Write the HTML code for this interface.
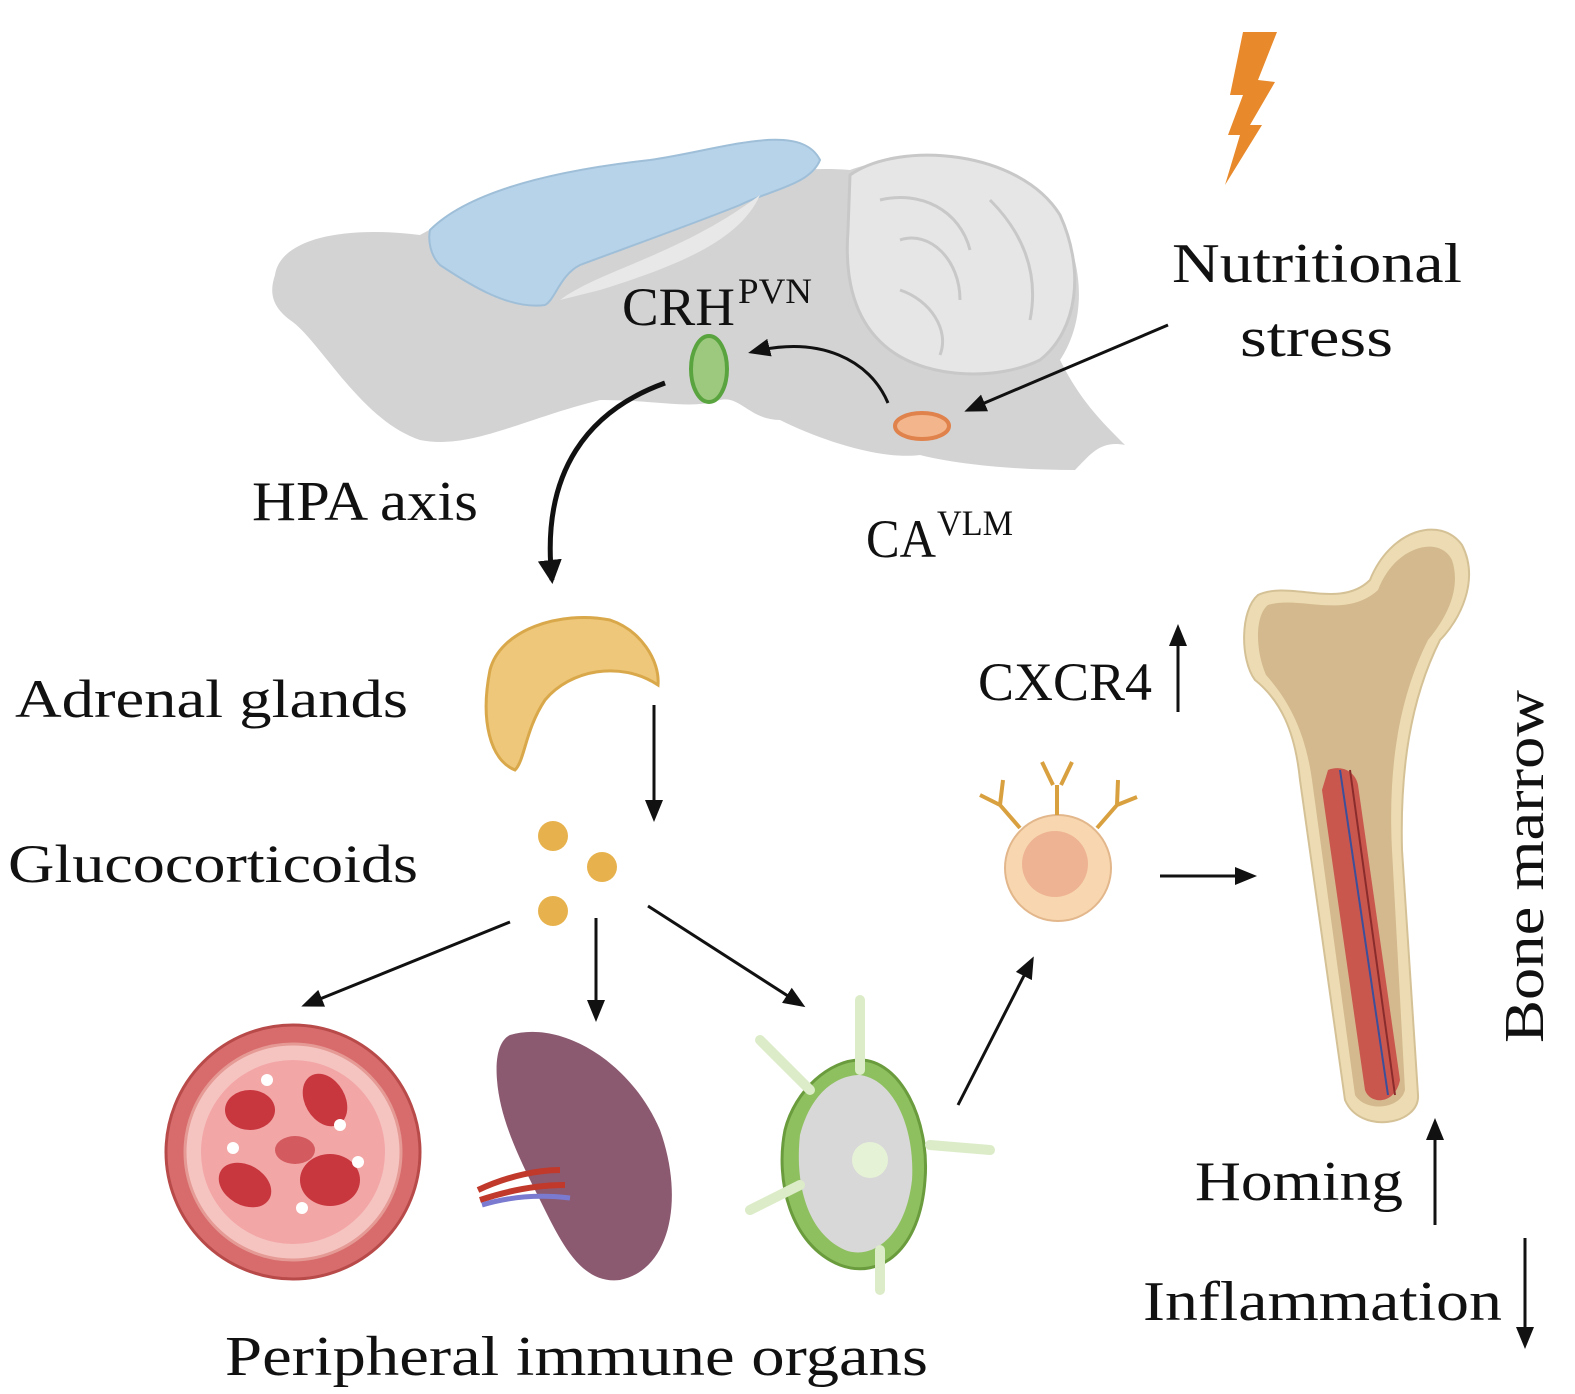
<!DOCTYPE html>
<html><head><meta charset="utf-8"><style>
html,body{margin:0;padding:0;background:#fff;}
svg{display:block;}
text{font-family:"Liberation Serif",serif;fill:#111;}
</style></head><body>
<svg width="1575" height="1394" viewBox="0 0 1575 1394" xmlns="http://www.w3.org/2000/svg">
<defs>
<marker id="ah2" markerWidth="24" markerHeight="24" refX="20" refY="12" orient="auto" markerUnits="userSpaceOnUse">
<path d="M0,0 L24,12 L0,24 Z" fill="#111"/></marker>
<marker id="ah3" markerWidth="22" markerHeight="22" refX="18" refY="11" orient="auto" markerUnits="userSpaceOnUse">
<path d="M0,2 L22,11 L0,20 Z" fill="#111"/></marker>
</defs>

<path d="M1243,32 L1277,32 L1258,80 L1275,82 L1250,125 L1262,125 L1225,185 L1240,135 L1228,135 L1243,95 L1230,95 Z" fill="#e8892b"/>

<path d="M275,275 C280,240 340,225 420,235 C480,200 560,185 640,190 C720,180 790,165 850,170 C900,150 1020,160 1060,220 C1090,280 1080,330 1060,360 C1080,400 1100,420 1125,445 C1100,440 1090,455 1075,470 C1020,470 960,465 920,455 C880,460 820,440 780,420 C750,420 740,395 720,400 C690,410 660,400 600,400 C520,420 470,450 420,440 C360,420 320,340 290,320 C270,305 270,290 275,275 Z" fill="#d3d3d4"/>
<path d="M850,175 C900,140 1020,150 1060,215 C1085,270 1078,330 1040,360 C1000,380 930,380 890,350 C850,320 845,270 848,230 Z" fill="#e6e6e6" stroke="#c8c8c8" stroke-width="3"/>
<path d="M880,200 C920,190 960,210 970,250 M900,240 C930,230 960,260 960,300 M990,200 C1020,230 1040,270 1030,320 M900,290 C930,300 950,330 940,355" fill="none" stroke="#c8c8c8" stroke-width="3"/>
<path d="M430,230 C470,190 560,170 650,160 C720,150 800,120 820,160 C810,185 770,190 740,205 C690,225 620,250 580,265 C560,275 555,300 545,305 C510,310 470,285 440,265 C430,255 428,240 430,230 Z" fill="#b7d3ea" stroke="#9fbfd8" stroke-width="2"/>
<path d="M560,300 C600,270 680,255 760,195 C740,240 680,265 600,290 Z" fill="#e8e8e8"/>

<ellipse cx="709" cy="369" rx="18" ry="33" fill="#9cc97d" stroke="#5aa440" stroke-width="4"/>
<ellipse cx="922" cy="426" rx="27" ry="13" fill="#f3b68c" stroke="#e0824b" stroke-width="4"/>

<path d="M888,403 C870,360 820,335 752,352" fill="none" stroke="#111" stroke-width="3" marker-end="url(#ah3)"/>
<line x1="1168" y1="325" x2="968" y2="410" stroke="#111" stroke-width="3" marker-end="url(#ah3)"/>
<path d="M665,383 C590,410 540,470 552,580" fill="none" stroke="#111" stroke-width="5" marker-end="url(#ah2)"/>

<text x="622" y="325" font-size="54" textLength="113" lengthAdjust="spacingAndGlyphs">CRH</text><text x="738" y="303" font-size="36" textLength="74" lengthAdjust="spacingAndGlyphs">PVN</text>
<text x="1172" y="282" font-size="56" textLength="290" lengthAdjust="spacingAndGlyphs">Nutritional</text>
<text x="1240" y="356" font-size="56" textLength="153" lengthAdjust="spacingAndGlyphs">stress</text>
<text x="252" y="520" font-size="56" textLength="226" lengthAdjust="spacingAndGlyphs">HPA axis</text>
<text x="866" y="557" font-size="54" textLength="70" lengthAdjust="spacingAndGlyphs">CA</text><text x="937" y="535" font-size="36" textLength="76" lengthAdjust="spacingAndGlyphs">VLM</text>

<path d="M490,670 C500,630 560,610 610,620 C640,630 660,660 658,685 C620,660 570,670 545,700 C525,730 525,760 515,770 C490,760 480,720 490,670 Z" fill="#eec77a" stroke="#d9a84a" stroke-width="3"/>
<text x="15" y="717" font-size="54" textLength="393" lengthAdjust="spacingAndGlyphs">Adrenal glands</text>
<line x1="654" y1="705" x2="654" y2="818" stroke="#111" stroke-width="3" marker-end="url(#ah3)"/>

<text x="8" y="882" font-size="54" textLength="410" lengthAdjust="spacingAndGlyphs">Glucocorticoids</text>
<circle cx="553" cy="836" r="15" fill="#e7b24d"/>
<circle cx="602" cy="867" r="15" fill="#e7b24d"/>
<circle cx="553" cy="911" r="15" fill="#e7b24d"/>
<line x1="510" y1="922" x2="305" y2="1005" stroke="#111" stroke-width="3" marker-end="url(#ah3)"/>
<line x1="596" y1="918" x2="596" y2="1018" stroke="#111" stroke-width="3" marker-end="url(#ah3)"/>
<line x1="648" y1="906" x2="802" y2="1005" stroke="#111" stroke-width="3" marker-end="url(#ah3)"/>

<circle cx="293" cy="1152" r="127" fill="#d86c6c" stroke="#b84a4a" stroke-width="3"/>
<circle cx="293" cy="1152" r="108" fill="#f6c4c0" stroke="#e59a95" stroke-width="3"/>
<circle cx="293" cy="1152" r="92" fill="#f2a6a6"/>
<ellipse cx="250" cy="1110" rx="25" ry="20" fill="#c8363e"/>
<ellipse cx="325" cy="1100" rx="20" ry="28" fill="#c8363e" transform="rotate(-30 325 1100)"/>
<ellipse cx="245" cy="1185" rx="28" ry="20" fill="#c8363e" transform="rotate(30 245 1185)"/>
<ellipse cx="330" cy="1180" rx="30" ry="26" fill="#c8363e"/>
<ellipse cx="295" cy="1150" rx="20" ry="14" fill="#d35a5f"/>
<circle cx="267" cy="1080" r="6" fill="#fff"/><circle cx="340" cy="1125" r="6" fill="#fff"/><circle cx="233" cy="1148" r="6" fill="#fff"/><circle cx="358" cy="1162" r="6" fill="#fff"/><circle cx="302" cy="1208" r="6" fill="#fff"/>

<path d="M510,1035 C560,1020 630,1060 660,1130 C685,1200 670,1270 620,1280 C580,1285 560,1240 540,1200 C520,1160 500,1120 497,1080 C495,1055 500,1040 510,1035 Z" fill="#8b5a70"/>
<path d="M478,1190 C510,1175 540,1170 560,1170 M480,1200 C510,1190 540,1185 565,1185" stroke="#c0392b" stroke-width="6" fill="none"/>
<path d="M482,1205 C515,1195 545,1195 570,1198" stroke="#7a7ad0" stroke-width="5" fill="none"/>

<path d="M860,1060 C900,1060 930,1120 925,1180 C920,1250 880,1280 840,1265 C790,1245 775,1180 785,1130 C795,1090 830,1060 860,1060 Z" fill="#8fc060" stroke="#6a9b3d" stroke-width="3"/>
<path d="M860,1075 C895,1080 915,1130 912,1180 C905,1240 870,1260 845,1250 C805,1232 795,1180 800,1135 C810,1095 835,1075 860,1075 Z" fill="#d8d8d8"/>
<path d="M860,1000 L860,1070 M760,1040 L810,1090 M750,1210 L800,1185 M880,1290 L880,1250 M930,1145 L990,1150" stroke="#dcecc8" stroke-width="10" stroke-linecap="round"/>
<circle cx="870" cy="1160" r="18" fill="#e6f2d6"/>

<line x1="958" y1="1105" x2="1032" y2="960" stroke="#111" stroke-width="3" marker-end="url(#ah3)"/>

<text x="225" y="1375" font-size="56" textLength="703" lengthAdjust="spacingAndGlyphs">Peripheral immune organs</text>

<circle cx="1058" cy="868" r="53" fill="#f8d7b0" stroke="#e3b78c" stroke-width="2"/>
<circle cx="1055" cy="864" r="33" fill="#eeb393"/>
<g stroke="#d9a040" stroke-width="4" fill="none">
<path d="M1057,815 L1057,785 M1053,785 L1042,762 M1061,785 L1072,762"/>
<path d="M1020,828 L1000,805 M1000,805 L980,795 M1000,805 L1003,780"/>
<path d="M1097,828 L1117,805 M1117,805 L1137,797 M1117,805 L1118,780"/>
</g>
<line x1="1160" y1="876" x2="1253" y2="876" stroke="#111" stroke-width="3" marker-end="url(#ah3)"/>

<text x="978" y="700" font-size="54" textLength="174" lengthAdjust="spacingAndGlyphs">CXCR4</text>
<line x1="1178" y1="712" x2="1178" y2="628" stroke="#111" stroke-width="3" marker-end="url(#ah3)"/>

<path d="M1258,595 C1290,580 1340,610 1370,580 C1390,530 1440,515 1462,545 C1480,580 1460,620 1440,640 C1410,700 1400,770 1402,850 L1418,1095 C1420,1125 1360,1135 1345,1100 L1300,780 C1295,730 1280,700 1255,680 C1240,660 1240,610 1258,595 Z" fill="#eddcb3" stroke="#d5c196" stroke-width="2"/>
<path d="M1268,605 C1300,595 1345,620 1378,590 C1395,545 1440,535 1452,560 C1462,590 1445,620 1428,640 C1398,700 1388,770 1392,850 L1405,1090 C1400,1110 1365,1112 1355,1095 L1312,780 C1305,730 1288,700 1266,675 C1255,650 1255,615 1268,605 Z" fill="#d4b98e"/>
<path d="M1328,770 C1340,765 1355,770 1358,785 L1400,1080 C1395,1105 1370,1105 1365,1090 L1322,790 Z" fill="#c9574e"/>
<path d="M1340,770 L1388,1095" stroke="#3b4f9a" stroke-width="2"/>
<path d="M1350,770 L1395,1095" stroke="#8a2c2c" stroke-width="2"/>

<text transform="translate(1543,1043) rotate(-90)" font-size="56" textLength="353" lengthAdjust="spacingAndGlyphs">Bone marrow</text>

<text x="1195" y="1200" font-size="56" textLength="208" lengthAdjust="spacingAndGlyphs">Homing</text>
<line x1="1435" y1="1225" x2="1435" y2="1122" stroke="#111" stroke-width="3" marker-end="url(#ah3)"/>
<text x="1143" y="1320" font-size="56" textLength="359" lengthAdjust="spacingAndGlyphs">Inflammation</text>
<line x1="1525" y1="1238" x2="1525" y2="1345" stroke="#111" stroke-width="3" marker-end="url(#ah3)"/>
</svg>
</body></html>
